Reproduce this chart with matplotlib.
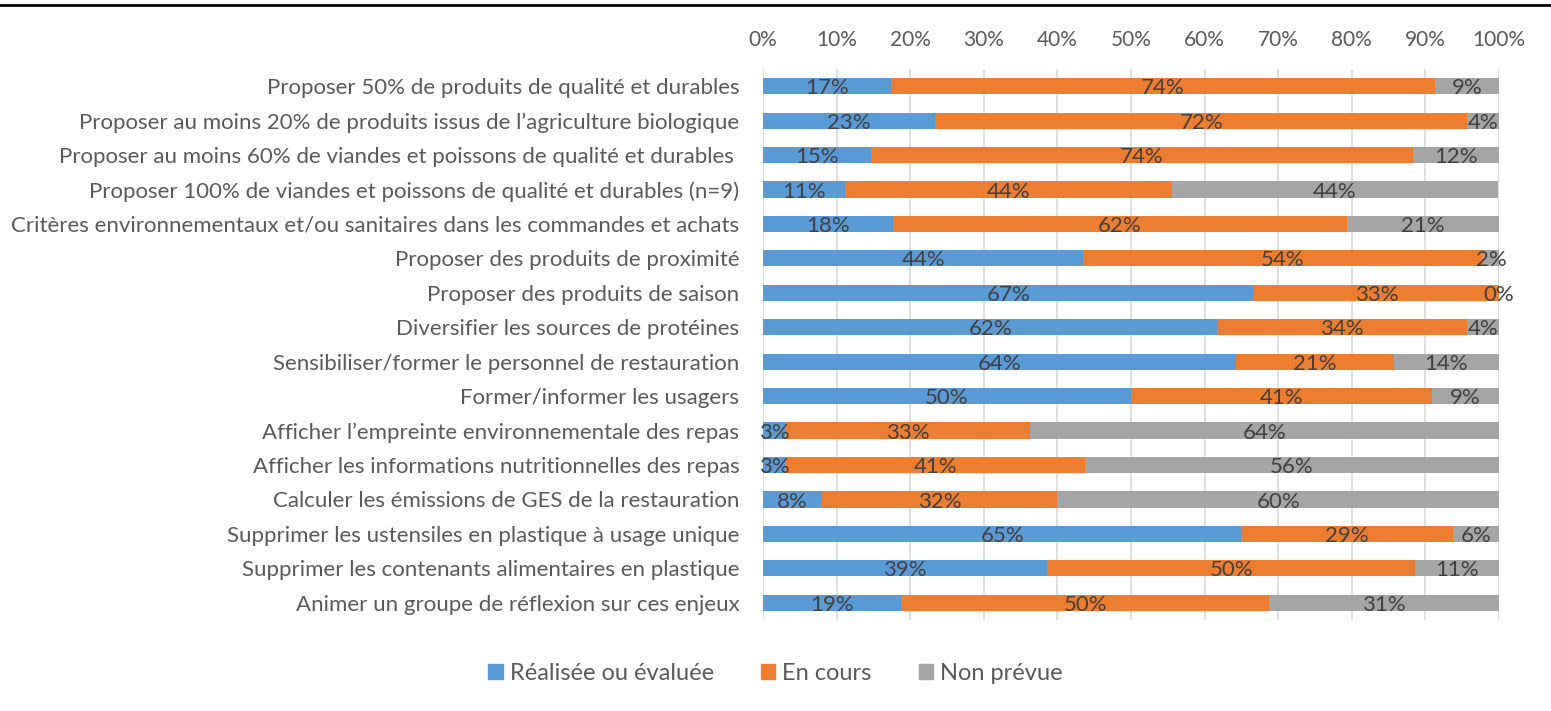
import numpy as np
import matplotlib
matplotlib.use("Agg")
import matplotlib.pyplot as plt
from matplotlib.lines import Line2D
from matplotlib.patches import Patch

plt.rcParams['font.family'] = ['Lato', 'DejaVu Sans']

# categories, top to bottom
categories = [
    "Proposer 50% de produits de qualité et durables",
    "Proposer au moins 20% de produits issus de l’agriculture biologique",
    "Proposer au moins 60% de viandes et poissons de qualité et durables ",
    "Proposer 100% de viandes et poissons de qualité et durables (n=9)",
    "Critères environnementaux et/ou sanitaires dans les commandes et achats",
    "Proposer des produits de proximité",
    "Proposer des produits de saison",
    "Diversifier les sources de protéines",
    "Sensibiliser/former le personnel de restauration",
    "Former/informer les usagers",
    "Afficher l’empreinte environnementale des repas",
    "Afficher les informations nutritionnelles des repas",
    "Calculer les émissions de GES de la restauration",
    "Supprimer les ustensiles en plastique à usage unique",
    "Supprimer les contenants alimentaires en plastique",
    "Animer un groupe de réflexion sur ces enjeux",
]

# shares in percent
realisee = [17.4, 23.4, 14.7, 11.1, 17.6, 43.5, 66.7, 61.7, 64.3, 50.0, 3.0, 3.1, 8.0, 65.0, 38.6, 18.8]
en_cours = [73.9, 72.3, 73.6, 44.4, 61.8, 54.3, 33.3, 34.0, 21.4, 40.9, 33.3, 40.6, 32.0, 28.7, 50.0, 50.0]
non_prevue = [8.7, 4.3, 11.7, 44.4, 20.6, 2.2, 0.0, 4.3, 14.3, 9.1, 63.7, 56.3, 60.0, 6.3, 11.4, 31.2]

series = ["Réalisée ou évaluée", "En cours", "Non prévue"]
colors = ["#5B9BD5", "#ED7D31", "#A5A5A5"]
xticks = np.arange(0, 101, 10)

fig = plt.figure(figsize=(15.51, 7.11), dpi=100)
ax = fig.add_axes([0.492, 0.128, 0.4745, 0.775])

y = np.arange(len(categories))
left = np.zeros(len(categories))
for vals, col, name in zip([realisee, en_cours, non_prevue], colors, series):
    vals = np.array(vals)
    ax.barh(y, vals, left=left, height=0.47, color=col, label=name, zorder=2)
    for yi, l, v in zip(y, left, vals):
        ax.text(l + v / 2, yi + 0.06, f"{v:.0f}%", ha="center", va="center",
                fontsize=16, color="#404040", zorder=3)
    left += vals

ax.set_xlim(0, 100)
ax.set_ylim(len(categories) - 0.5, -0.5)
ax.set_yticks(y)
ax.set_yticklabels(categories)
ax.set_xticks(xticks)
ax.set_xticklabels([f"{t}%" for t in xticks])
ax.xaxis.tick_top()
ax.tick_params(axis="x", length=0, pad=14, labelsize=15, labelcolor="#595959")
ax.tick_params(axis="y", length=0, pad=17, labelsize=16, labelcolor="#595959")
ax.grid(axis="x", color="#D9D9D9", lw=1.2, zorder=0)
for s in ax.spines.values():
    s.set_visible(False)

handles = [Patch(color=c, label=n) for c, n in zip(colors, series)]
fig.legend(handles=handles, loc="center", bbox_to_anchor=(0.5, 0.053), ncol=3,
           frameon=False, fontsize=17, handlelength=0.6, handleheight=0.6,
           handletextpad=0.3, columnspacing=2.0, labelcolor="#595959")

fig.add_artist(Line2D([0, 1], [0.993, 0.993], transform=fig.transFigure, color="black", lw=2))

fig.savefig("out.png", dpi=100)
